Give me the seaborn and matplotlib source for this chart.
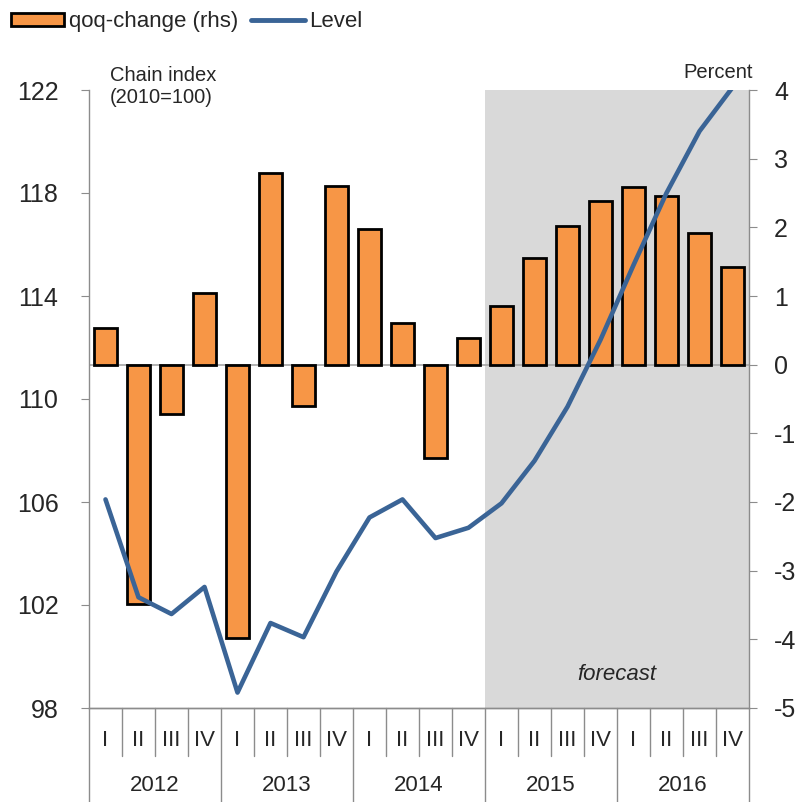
import pandas as pd
import matplotlib.pyplot as plt
import seaborn as sns
from matplotlib.patches import Patch
from matplotlib.lines import Line2D

# Data
years = ["2012", "2013", "2014", "2015", "2016"]
quarters = ["I", "II", "III", "IV"]
qoq_change = [0.53, -3.48, -0.72, 1.04, -3.98, 2.79, -0.60, 2.60, 1.98, 0.61,
              -1.36, 0.39, 0.85, 1.55, 2.02, 2.38, 2.59, 2.46, 1.92, 1.42]
level = [106.1, 102.3, 101.65, 102.7, 98.6, 101.3, 100.75, 103.3, 105.4, 106.1,
         104.6, 105.0, 105.95, 107.6, 109.7, 112.3, 115.2, 118.0, 120.4, 122.1]
forecast_start = "2015 I"

labels = [f"{y} {q}" for y in years for q in quarters]
df = pd.DataFrame({"period": labels, "pos": range(len(labels)),
                   "qoq": qoq_change, "level": level})

sns.set_style("white")
plt.rcParams['font.family'] = ['Liberation Sans', 'DejaVu Sans']
plt.rcParams['axes.unicode_minus'] = False

bar_color = "#f79646"
line_color = "#3a6496"
grey = "#8c8c8c"

W, H = 797, 802
fig = plt.figure(figsize=(W / 100, H / 100), dpi=100)
ax1 = fig.add_axes([89 / W, 1 - 708 / H, (749 - 89) / W, (708 - 90) / H])
ax2 = ax1.twinx()

# Forecast shading and bars (rhs)
fstart = labels.index(forecast_start) - 0.5
ax2.axvspan(fstart, len(labels) - 0.5, color="#d9d9d9", zorder=0, lw=0)
ax2.axhline(0, color="#a6a6a6", lw=1.2, zorder=0.5)
sns.barplot(data=df, x="period", y="qoq", ax=ax2, color=bar_color, width=0.72,
            edgecolor="black", linewidth=2, saturation=1, zorder=2)
ax2.set_ylim(-5, 4)
ax2.set_yticks(range(-5, 5))

# Level line (lhs), drawn on top
sns.lineplot(data=df, x="pos", y="level", ax=ax1, color=line_color, lw=3.3)
ax1.set_zorder(ax2.get_zorder() + 1)
ax1.patch.set_visible(False)
ax1.set_ylim(98, 122)
ax1.set_yticks(range(98, 123, 4))
ax1.set_xlim(-0.5, len(labels) - 0.5)

for ax in (ax1, ax2):
    ax.set_xlabel("")
    ax.set_ylabel("")
    ax.set_xticks([])
    for s in ax.spines.values():
        s.set_color(grey)
        s.set_linewidth(1)
    ax.spines["top"].set_visible(False)
ax1.spines["right"].set_visible(False)
ax2.spines["left"].set_visible(False)
ax1.tick_params(axis="y", direction="out", length=6, color=grey, pad=16, labelsize=18, left=True)
ax2.tick_params(axis="y", direction="out", length=6, color=grey, pad=12, labelsize=18, right=True)

# Category axis: quarters and years with separators
narrow = ['Liberation Sans Narrow', 'Liberation Sans', 'DejaVu Sans']
trans = ax1.get_xaxis_transform()
for i, lab in enumerate(labels):
    q = lab.split(" ")[1]
    ax1.text(i, -0.053, q, transform=trans, ha="center", va="center",
             fontsize=16, family=narrow)
    if i > 0 and i % 4 != 0:
        ax1.plot([i - 0.5, i - 0.5], [0, -0.077], transform=trans, color=grey,
                 lw=1, clip_on=False)
for k, y in enumerate(years):
    ax1.text(k * 4 + 1.5, -0.125, y, transform=trans, ha="center", va="center",
             fontsize=16, family=narrow)
for k in range(len(years) + 1):
    x = k * 4 - 0.5
    ax1.plot([x, x], [0, -0.16], transform=trans, color=grey, lw=1, clip_on=False)

# Annotations
fig.text(110 / W, 1 - 66 / H, "Chain index\n(2010=100)", ha="left", va="top",
         fontsize=14.5, linespacing=1.2)
fig.text(753 / W, 1 - 73 / H, "Percent", ha="right", va="center", fontsize=14.5)
fig.text(617 / W, 1 - 675 / H, "forecast", fontsize=16, style="italic",
         ha="center", va="center")

handles = [Patch(facecolor=bar_color, edgecolor="black", linewidth=2),
           Line2D([0], [0], color=line_color, lw=3.5)]
fig.legend(handles, ["qoq-change (rhs)", "Level"], loc="upper left",
           bbox_to_anchor=(0.0, 1.0), ncol=2, frameon=False, fontsize=16,
           handlelength=2.4, handleheight=0.55, handletextpad=0.2,
           columnspacing=0.6, borderaxespad=0.3, borderpad=0.2)

fig.savefig("out.png", dpi=100)
